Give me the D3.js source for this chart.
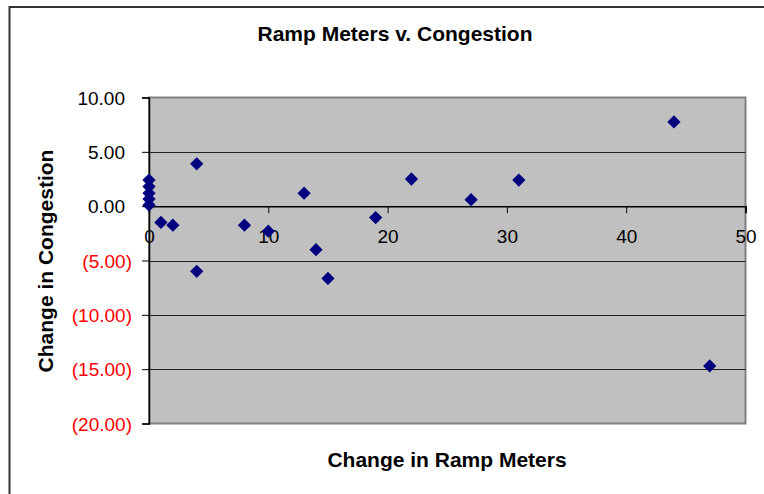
<!DOCTYPE html>
<html>
<head>
<meta charset="utf-8">
<script src="https://cdn.jsdelivr.net/npm/d3@7"></script>
<style>
  body { margin: 0; background: #fff; }
  text { font-family: Arial, "Liberation Sans", sans-serif; }
</style>
</head>
<body>
<div id="chart"></div>
<script>
// Ramp Meters v. Congestion - scatter plot

// Data
const rampMeters = [0, 0, 0, 0, 0, 1, 2, 4, 4, 8, 10, 13, 14, 15, 19, 22, 27, 31, 44, 47];
const congestion = [2.4, 1.8, 1.2, 0.65, 0.1, -1.5, -1.75, 3.9, -6.0, -1.75, -2.3, 1.2, -4.0, -6.65, -1.05, 2.5, 0.6, 2.4, 7.75, -14.7];
const xTicks = [0, 10, 20, 30, 40, 50];
const yTicks = [10, 5, 0, -5, -10, -15, -20];

const W = 764, H = 494;
const plot = { left: 149, right: 745.5, top: 97.5, bottom: 423.5 };

const svg = d3.select('#chart')
    .append('svg')
    .attr('width', W)
    .attr('height', H);

// Chart area border
svg.append('rect')
    .attr('x', 9.5)
    .attr('y', 7)
    .attr('width', 800)
    .attr('height', 600)
    .attr('fill', '#fff')
    .attr('stroke', '#333')
    .attr('stroke-width', 2);

// Scales
const x = d3.scaleLinear().domain([0, 50]).range([plot.left, plot.right]);
const y = d3.scaleLinear().domain([-20, 10]).range([plot.bottom, plot.top]);

// Plot area
svg.append('rect')
    .attr('x', plot.left)
    .attr('y', plot.top)
    .attr('width', plot.right - plot.left)
    .attr('height', plot.bottom - plot.top)
    .attr('fill', '#c0c0c0')
    .attr('stroke', '#808080')
    .attr('stroke-width', 2);

// Horizontal gridlines
svg.selectAll('.grid')
    .data(yTicks.filter(d => d !== 10 && d !== -20 && d !== 0))
    .enter()
    .append('line')
    .attr('class', 'grid')
    .attr('x1', plot.left)
    .attr('x2', plot.right)
    .attr('y1', d => Math.round(y(d)) + 0.5)
    .attr('y2', d => Math.round(y(d)) + 0.5)
    .attr('stroke', '#222')
    .attr('stroke-width', 1);

// Y axis
const yAxis = d3.axisLeft(y)
    .tickValues(yTicks)
    .tickSize(7)
    .tickPadding(0)
    .tickFormat('');

const yG = svg.append('g')
    .attr('transform', `translate(${plot.left}, 0)`)
    .call(yAxis);
yG.select('.domain').attr('stroke', '#000').attr('stroke-width', 1.5);
yG.selectAll('.tick line').attr('stroke', '#000');

// Y tick labels (Excel style: negatives red in parentheses)
svg.selectAll('.ylabel')
    .data(yTicks)
    .enter()
    .append('text')
    .attr('class', 'ylabel')
    .attr('x', d => d < 0 ? 132 : 125)
    .attr('y', d => y(d) + 7)
    .attr('text-anchor', 'end')
    .attr('font-size', 19)
    .attr('fill', d => d < 0 ? '#ff0000' : '#000')
    .text(d => d < 0 ? `(${d3.format('.2f')(-d)})` : d3.format('.2f')(d));

// X axis at zero
const xAxis = d3.axisBottom(x)
    .tickValues(xTicks)
    .tickSize(7)
    .tickPadding(16)
    .tickFormat(d3.format('d'));

const xG = svg.append('g')
    .attr('transform', `translate(0, ${y(0)})`)
    .call(xAxis);
xG.select('.domain').attr('stroke', '#000').attr('stroke-width', 1.5);
xG.selectAll('.tick line').attr('stroke', '#000');
xG.selectAll('.tick text')
    .attr('font-size', 19)
    .attr('fill', '#000')
    .attr('font-family', 'Arial, "Liberation Sans", sans-serif');

// Points
const points = rampMeters.map((d, i) => [d, congestion[i]]);
const diamond = d3.symbol().type(d3.symbolSquare).size(88);

svg.selectAll('.pt')
    .data(points)
    .enter()
    .append('path')
    .attr('class', 'pt')
    .attr('d', diamond)
    .attr('transform', d => `translate(${x(d[0])}, ${y(d[1])}) rotate(45)`)
    .attr('fill', '#000080');

// Titles
svg.append('text')
    .attr('x', 395)
    .attr('y', 41)
    .attr('text-anchor', 'middle')
    .attr('font-size', 21)
    .attr('font-weight', 'bold')
    .text('Ramp Meters v. Congestion');

svg.append('text')
    .attr('x', 447)
    .attr('y', 467)
    .attr('text-anchor', 'middle')
    .attr('font-size', 21)
    .attr('font-weight', 'bold')
    .text('Change in Ramp Meters');

svg.append('text')
    .attr('transform', 'translate(53, 261) rotate(-90)')
    .attr('text-anchor', 'middle')
    .attr('font-size', 21)
    .attr('font-weight', 'bold')
    .text('Change in Congestion');
</script>
</body>
</html>
